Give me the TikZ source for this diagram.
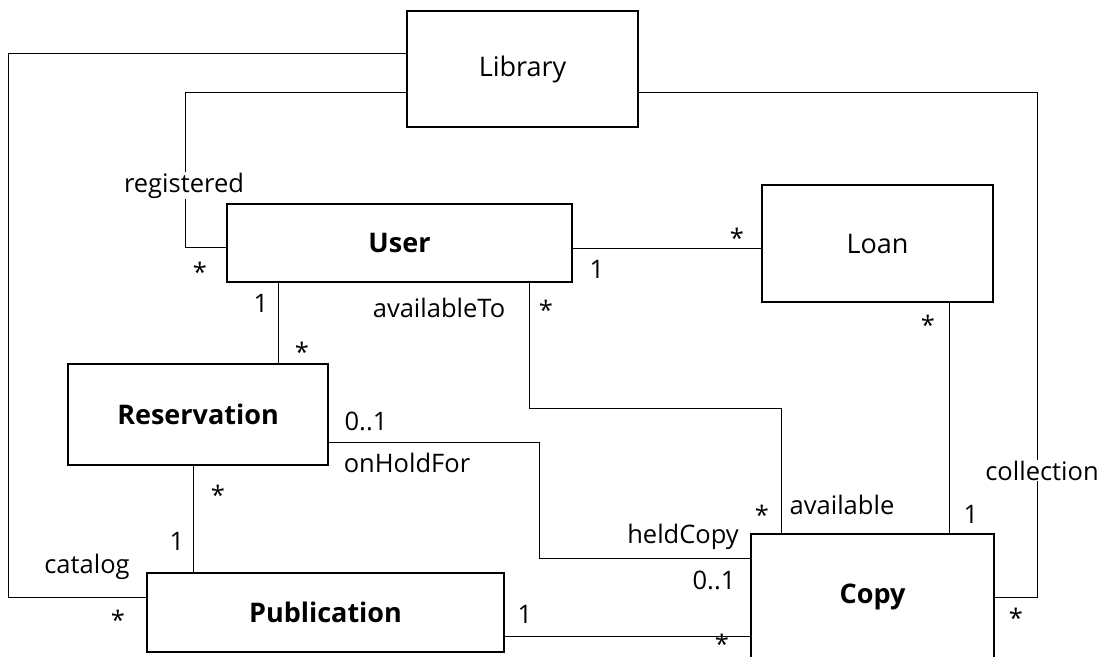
\documentclass[tikz,border=0pt]{standalone}
\usepackage{fontspec}
\setmainfont{Open Sans}

\tikzset{
    cls/.style={draw, line width=2.5pt, inner sep=0pt, fill=white, font=\fontsize{27}{29}\selectfont},
    bcls/.style={cls, font=\fontsize{27}{29}\selectfont\bfseries},
    assoc/.style={line width=1pt},
    role/.style={anchor=base, inner sep=1pt, font=\fontsize{25.5}{27}\selectfont},
}

\begin{document}
\begin{tikzpicture}[x=1pt, y=-1pt]
    \useasboundingbox (0,0) rectangle (1099,656);

    % classes
    \node[cls, minimum width=231, minimum height=116] (library) at (522.5,69) {Library};
    \node[bcls, minimum width=345, minimum height=78] (user) at (399.5,243) {User};
    \node[cls, minimum width=231, minimum height=117] (loan) at (877.5,243.5) {Loan};
    \node[bcls, minimum width=260, minimum height=101] (reservation) at (198,414.5) {Reservation};
    \node[bcls, minimum width=357, minimum height=79] (publication) at (325.5,612.5) {Publication};
    \node[bcls, minimum width=243, minimum height=126] (copy) at (872.5,597) {Copy};

    % associations
    \draw[assoc] (library.west |- 0,53) -| (8,597) -- (publication.west |- 0,597);
    \draw[assoc] (library.west |- 0,92) -| (185,247) -- (user.west |- 0,247);
    \draw[assoc] (library.east |- 0,92) -| (1037,597) -- (copy.east |- 0,597);
    \draw[assoc] (user.east |- 0,248) -- (loan.west |- 0,248);
    \draw[assoc] (user.south -| 278,0) -- (reservation.north -| 278,0);
    \draw[assoc] (user.south -| 529,0) |- (781.5,408) -- (copy.north -| 781.5,0);
    \draw[assoc] (reservation.east |- 0,442) -| (539,558) -- (copy.west |- 0,558);
    \draw[assoc] (loan.south -| 949,0) -- (copy.north -| 949,0);
    \draw[assoc] (reservation.south -| 193,0) -- (publication.north -| 193,0);
    \draw[assoc] (publication.east |- 0,636) -- (copy.west |- 0,636);

    % role names
    \node[role, fill=white] (rRegistered) at (184,192) {registered};
    \node[role, fill=white] (rCollection) at (1042,480) {collection};
    \node[role] (rCatalog) at (87,573) {catalog};
    \node[role] (rAvailableTo) at (439,317) {availableTo};
    \node[role] (rAvailable) at (842,514) {available};
    \node[role] (rOnHoldFor) at (407,472) {onHoldFor};
    \node[role, anchor=base east] (rHeldCopy) at (740,543) {heldCopy};

    % multiplicities
    \node[role] (mUserLib) at (200,281) {*};
    \node[role] (mUserLoan) at (737,247) {*};
    \node[role] (mLoanUser) at (597,278.5) {1};
    \node[role] (mResUser) at (302,361) {*};
    \node[role] (mUserRes) at (261,312.5) {1};
    \node[role] (mCopyUser) at (546,319) {*};
    \node[role] (mUserCopy) at (762,524) {*};
    \node[role] (mCopyLoan) at (971,523.5) {1};
    \node[role] (mLoanCopy) at (928,334) {*};
    \node[role] (mResPub) at (218,504) {*};
    \node[role] (mPubRes) at (177,550.5) {1};
    \node[role] (mPubLib) at (118,629) {*};
    \node[role] (mCopyLib) at (1016,627) {*};
    \node[role] (mPubCopy) at (525,623.5) {1};
    \node[role, inner sep=0pt] (mCopyPub) at (722,653) {*};
    \node[role] (mResCopy) at (366,430.5) {0..1};
    \node[role] (mCopyRes) at (714,589.5) {0..1};
\end{tikzpicture}
\end{document}
